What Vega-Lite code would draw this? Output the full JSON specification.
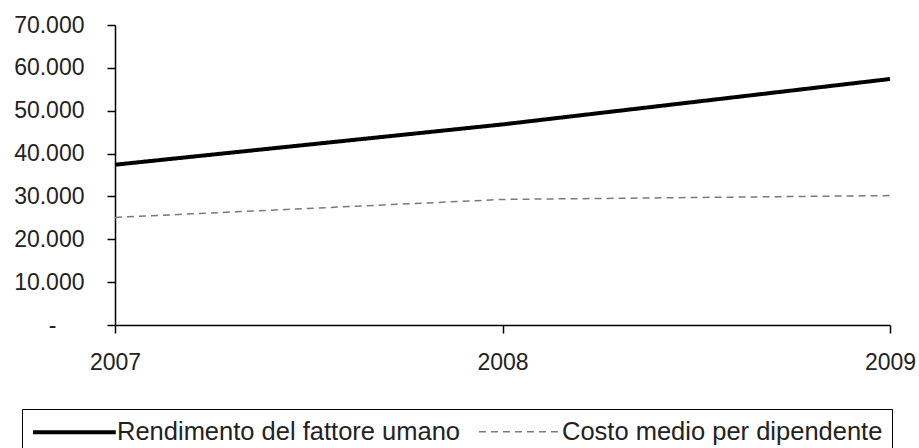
{
  "$schema": "https://vega.github.io/schema/vega-lite/v6.json",
  "width": 775,
  "height": 300,
  "autosize": {"type": "none"},
  "padding": {"left": 115, "top": 25, "right": 29, "bottom": 123},
  "background": "white",
  "data": {
    "values": [
      {"anno": "2007", "serie": "Rendimento del fattore umano", "valore": 37400},
      {"anno": "2008", "serie": "Rendimento del fattore umano", "valore": 46800},
      {"anno": "2009", "serie": "Rendimento del fattore umano", "valore": 57400},
      {"anno": "2007", "serie": "Costo medio per dipendente", "valore": 25100},
      {"anno": "2008", "serie": "Costo medio per dipendente", "valore": 29300},
      {"anno": "2009", "serie": "Costo medio per dipendente", "valore": 30200}
    ]
  },
  "mark": {"type": "line"},
  "encoding": {
    "x": {
      "field": "anno",
      "type": "ordinal",
      "scale": {"type": "point", "padding": 0},
      "axis": {"title": null, "labelAngle": 0, "labelPadding": 18}
    },
    "y": {
      "field": "valore",
      "type": "quantitative",
      "scale": {"domain": [0, 70000], "nice": false, "zero": true},
      "axis": {
        "title": null,
        "values": [0, 10000, 20000, 30000, 40000, 50000, 60000, 70000],
        "labelPadding": {"condition": {"test": "datum.value == 0", "value": 51}, "value": 23},
        "labelExpr": "datum.value == 0 ? '-' : replace(format(datum.value, ',d'), ',', '.')"
      }
    },
    "color": {
      "field": "serie",
      "type": "nominal",
      "scale": {
        "domain": ["Rendimento del fattore umano", "Costo medio per dipendente"],
        "range": ["#000000", "#7a7a7a"]
      },
      "legend": {
        "title": null,
        "orient": "none",
        "direction": "horizontal",
        "legendX": -93,
        "legendY": 384,
        "padding": 9,
        "strokeColor": "#000000",
        "fillColor": "white",
        "symbolType": "M-1,0H5.9",
        "symbolSize": 576,
        "labelFontSize": 25.5,
        "labelOffset": 58,
        "columnPadding": 15,
        "labelLimit": 600
      }
    },
    "strokeDash": {
      "field": "serie",
      "type": "nominal",
      "scale": {
        "domain": ["Rendimento del fattore umano", "Costo medio per dipendente"],
        "range": [[1, 0], [7, 5]]
      }
    },
    "strokeWidth": {
      "field": "serie",
      "type": "nominal",
      "scale": {
        "domain": ["Rendimento del fattore umano", "Costo medio per dipendente"],
        "range": [4, 1.5]
      }
    }
  },
  "config": {
    "font": "Liberation Sans",
    "view": {"stroke": null},
    "axis": {
      "grid": false,
      "domainColor": "#000000",
      "domainWidth": 1.5,
      "tickColor": "#000000",
      "tickWidth": 1.5,
      "tickSize": 8,
      "labelFont": "Liberation Sans",
      "labelFontSize": 23,
      "labelColor": "#222222"
    },
    "legend": {
      "labelFont": "Liberation Sans",
      "labelColor": "#222222"
    }
  }
}
